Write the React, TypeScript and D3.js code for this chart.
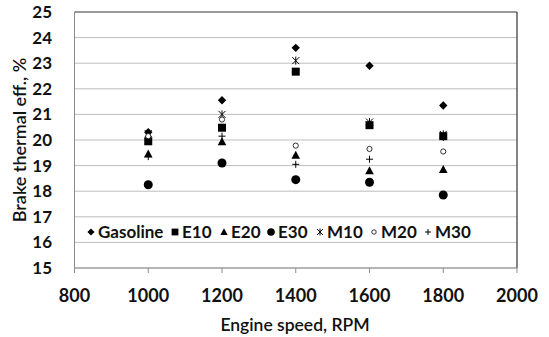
import React from "react";
import * as d3 from "d3";

const rpm = [1000, 1200, 1400, 1600, 1800];
const gasoline = [20.3, 21.55, 23.6, 22.9, 21.35];
const e10 = [19.95, 20.48, 22.67, 20.58, 20.15];
const e20 = [19.45, 19.93, 19.4, 18.8, 18.85];
const e30 = [18.25, 19.1, 18.45, 18.35, 17.85];
const m10 = [20.25, 21.0, 23.1, 20.7, 20.22];
const m20 = [20.15, 20.8, 19.78, 19.65, 19.55];
const m30 = [19.35, 20.15, 19.05, 19.25, 20.1];

const xTicks = [800, 1000, 1200, 1400, 1600, 1800, 2000];
const yTicks = [15, 16, 17, 18, 19, 20, 21, 22, 23, 24, 25];

const seriesNames = ["Gasoline", "E10", "E20", "E30", "M10", "M20", "M30"];
const seriesValues = [gasoline, e10, e20, e30, m10, m20, m30];
const markers = ["diamond", "square", "triangle", "circle", "star", "open", "plus"];

const W = 549, H = 337;
const L = 74.5, R = 517, T = 12, B = 268;
const FONT = "Lato, 'Liberation Sans', sans-serif";

function Marker({ type, x, y, s = 1 }: { type: string; x: number; y: number; s?: number }) {
  switch (type) {
    case "diamond":
      return <path d={`M${x},${y - 4.2 * s}L${x + 4.2 * s},${y}L${x},${y + 4.2 * s}L${x - 4.2 * s},${y}Z`} fill="#000" />;
    case "square":
      return <rect x={x - 4 * s} y={y - 4 * s} width={8 * s} height={8 * s} fill="#000" />;
    case "triangle":
      return <path d={`M${x},${y - 4.5 * s}L${x + 4.3 * s},${y + 3.5 * s}L${x - 4.3 * s},${y + 3.5 * s}Z`} fill="#000" />;
    case "circle":
      return <circle cx={x} cy={y} r={4.5 * s} fill="#000" />;
    case "star":
      return (
        <path
          d={`M${x},${y - 4 * s}L${x},${y + 4 * s}M${x - 3.5 * s},${y - 3.5 * s}L${x + 3.5 * s},${y + 3.5 * s}M${x - 3.5 * s},${y + 3.5 * s}L${x + 3.5 * s},${y - 3.5 * s}`}
          stroke="#000"
          strokeWidth={1}
          fill="none"
        />
      );
    case "open":
      return <circle cx={x} cy={y} r={2.6 * s} fill="#fff" stroke="#000" strokeWidth={0.8} />;
    case "plus":
      return (
        <path
          d={`M${x - 3.5 * s},${y}L${x + 3.5 * s},${y}M${x},${y - 3.5 * s}L${x},${y + 3.5 * s}`}
          stroke="#000"
          strokeWidth={1}
          fill="none"
        />
      );
  }
  return null;
}

const legendX = [91, 175, 224, 271, 320, 374, 428];
const legendY = 232;

export default function App() {
  const x = d3.scaleLinear().domain([800, 2000]).range([L, R]);
  const y = d3.scaleLinear().domain([15, 25]).range([B, T]);
  return (
    <div style={{ position: "absolute", left: 0, top: 0 }}>
      <svg width={W} height={H} style={{ display: "block", background: "#fff" }}>
        {yTicks.map((t) => (
          <line key={"g" + t} x1={L} x2={R} y1={y(t)} y2={y(t)} stroke="#bdbdbd" strokeWidth={1} />
        ))}
        <line x1={L} x2={R} y1={T} y2={T} stroke="#555" strokeWidth={1.2} />
        <line x1={R} x2={R} y1={T} y2={B} stroke="#333" strokeWidth={1.2} />
        <line x1={L} x2={L} y1={T} y2={B} stroke="#8c8c8c" strokeWidth={1} />
        <line x1={L} x2={R} y1={B} y2={B} stroke="#8c8c8c" strokeWidth={1} />
        {xTicks.map((t) => (
          <line key={"xt" + t} x1={x(t)} x2={x(t)} y1={B} y2={B + 5} stroke="#8c8c8c" strokeWidth={1} />
        ))}
        {yTicks.map((t) => (
          <text key={"yl" + t} x={52} y={y(t)} dy="0.35em" textAnchor="end" fontFamily={FONT} fontWeight="bold" fontSize={17} fill="#111">
            {t}
          </text>
        ))}
        {xTicks.map((t) => (
          <text key={"xl" + t} x={x(t)} y={296} dy="0.35em" textAnchor="middle" fontFamily={FONT} fontWeight="bold" fontSize={18} fill="#111">
            {t}
          </text>
        ))}
        <text x={295} y={325} dy="0.35em" textAnchor="middle" fontFamily={FONT} fontWeight={600} fontSize={17.5} fill="#111">
          Engine speed, RPM
        </text>
        <text transform={`translate(20,140) rotate(-90)`} textAnchor="middle" dy="0.35em" fontFamily={FONT} fontWeight={600} fontSize={18} fill="#111">
          Brake thermal eff., %
        </text>
        {seriesValues.map((vals, si) =>
          vals.map((v, i) => <Marker key={si + "-" + i} type={markers[si]} x={x(rpm[i])} y={y(v)} />)
        )}
        {seriesNames.map((n, i) => (
          <g key={"lg" + n}>
            <Marker type={markers[i]} x={legendX[i]} y={legendY} s={0.85} />
            <text x={legendX[i] + 7} y={legendY} dy="0.35em" fontFamily={FONT} fontWeight="bold" fontSize={17} fill="#111">
              {n}
            </text>
          </g>
        ))}
      </svg>
    </div>
  );
}
